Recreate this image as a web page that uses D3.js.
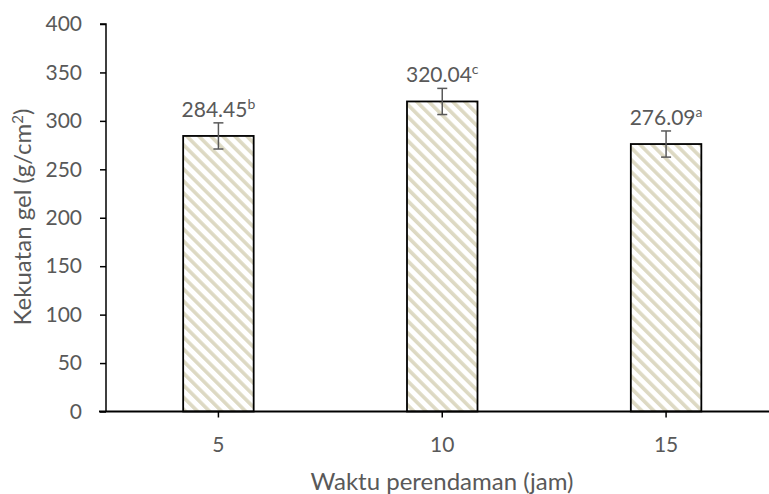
<!DOCTYPE html>
<html>
<head>
<meta charset="utf-8">
<script src="https://cdn.jsdelivr.net/npm/d3@7"></script>
<style>
  html, body { margin: 0; padding: 0; background: #fff; }
  svg { display: block; font-family: Lato, "Open Sans", sans-serif; }
</style>
</head>
<body>
<svg id="chart" width="769" height="494"></svg>
<script>
// Gel strength by soaking time
const categories = ["5", "10", "15"];
const values = [284.45, 320.04, 276.09];
const errors = [13.5, 13.5, 13.5];
const letters = ["b", "c", "a"];
const yTicks = [0, 50, 100, 150, 200, 250, 300, 350, 400];

const svg = d3.select("#chart");
const textColor = "#595959";

const x = d3.scaleBand().domain(categories).range([106.5, 778]).paddingInner(0.685).paddingOuter(0.3425);
const y = d3.scaleLinear().domain([0, 400]).range([411.5, 24]);

// Diagonal hatch fill
const defs = svg.append("defs");
const pat = defs.append("pattern")
  .attr("id", "hatch")
  .attr("patternUnits", "userSpaceOnUse")
  .attr("width", 8.5).attr("height", 8.5)
  .attr("patternTransform", "rotate(-45)");
pat.append("rect").attr("width", 8.5).attr("height", 8.5).attr("fill", "#fff");
pat.append("rect").attr("x", 0).attr("y", 0).attr("width", 3.6).attr("height", 8.5).attr("fill", "#ddd9c3");

// Bars
svg.append("g").selectAll("rect")
  .data(values)
  .join("rect")
  .attr("x", (d, i) => x(categories[i]))
  .attr("y", d => y(d))
  .attr("width", x.bandwidth())
  .attr("height", d => y(0) - y(d))
  .attr("fill", "url(#hatch)")
  .attr("stroke", "#000")
  .attr("stroke-width", 1.8);

// Y axis
const yAxis = d3.axisLeft(y).tickValues(yTicks).tickSize(6).tickPadding(18);
const gy = svg.append("g").attr("transform", "translate(106,0)").call(yAxis);
gy.select(".domain").attr("stroke", "#000").attr("stroke-width", 1.5).attr("d", `M-6,${y(400)}H0V${y(0)}`);
gy.selectAll(".tick line").attr("stroke", "#000").attr("stroke-width", 1.5);
gy.selectAll(".tick text").attr("fill", textColor).style("font-size", "21px").style("font-family", "Lato, sans-serif");

// X axis
const xAxis = d3.axisBottom(x).tickSize(6).tickPadding(19.5);
const gx = svg.append("g").attr("transform", `translate(0,${y(0)})`).call(xAxis);
gx.select(".domain").attr("stroke", "#000").attr("stroke-width", 2).attr("d", "M99,0H778");
gx.selectAll(".tick line").attr("stroke", "#000").attr("stroke-width", 1.5);
gx.selectAll(".tick text").attr("fill", textColor).style("font-size", "21px").style("font-family", "Lato, sans-serif");

// Error bars
const eb = svg.append("g").attr("stroke", "#595959").attr("stroke-width", 1.5);
values.forEach((v, i) => {
  const cx = x(categories[i]) + x.bandwidth() / 2;
  eb.append("line").attr("x1", cx).attr("x2", cx).attr("y1", y(v + errors[i])).attr("y2", y(v - errors[i]));
  eb.append("line").attr("x1", cx - 5).attr("x2", cx + 5).attr("y1", y(v + errors[i])).attr("y2", y(v + errors[i]));
  eb.append("line").attr("x1", cx - 5).attr("x2", cx + 5).attr("y1", y(v - errors[i])).attr("y2", y(v - errors[i]));
});

// Value labels with significance letters
const lab = svg.append("g").attr("fill", textColor).style("font-size", "21px");
values.forEach((v, i) => {
  const cx = x(categories[i]) + x.bandwidth() / 2;
  const t = lab.append("text")
    .attr("x", cx)
    .attr("y", y(v + errors[i]) - 6)
    .attr("text-anchor", "middle");
  t.append("tspan").text(v.toFixed(2));
  t.append("tspan").attr("dy", -8).style("font-size", "14px").text(letters[i]);
});

// Axis titles
svg.append("text")
  .attr("x", 442).attr("y", 490)
  .attr("text-anchor", "middle")
  .attr("fill", textColor)
  .style("font-size", "24px")
  .text("Waktu perendaman (jam)");

const yt = svg.append("text")
  .attr("transform", "translate(31,217) rotate(-90)")
  .attr("text-anchor", "middle")
  .attr("fill", textColor)
  .style("font-size", "24px");
yt.append("tspan").text("Kekuatan gel (g/cm");
yt.append("tspan").attr("dy", -8).style("font-size", "15px").text("2");
yt.append("tspan").attr("dy", 8).text(")");
</script>
</body>
</html>
